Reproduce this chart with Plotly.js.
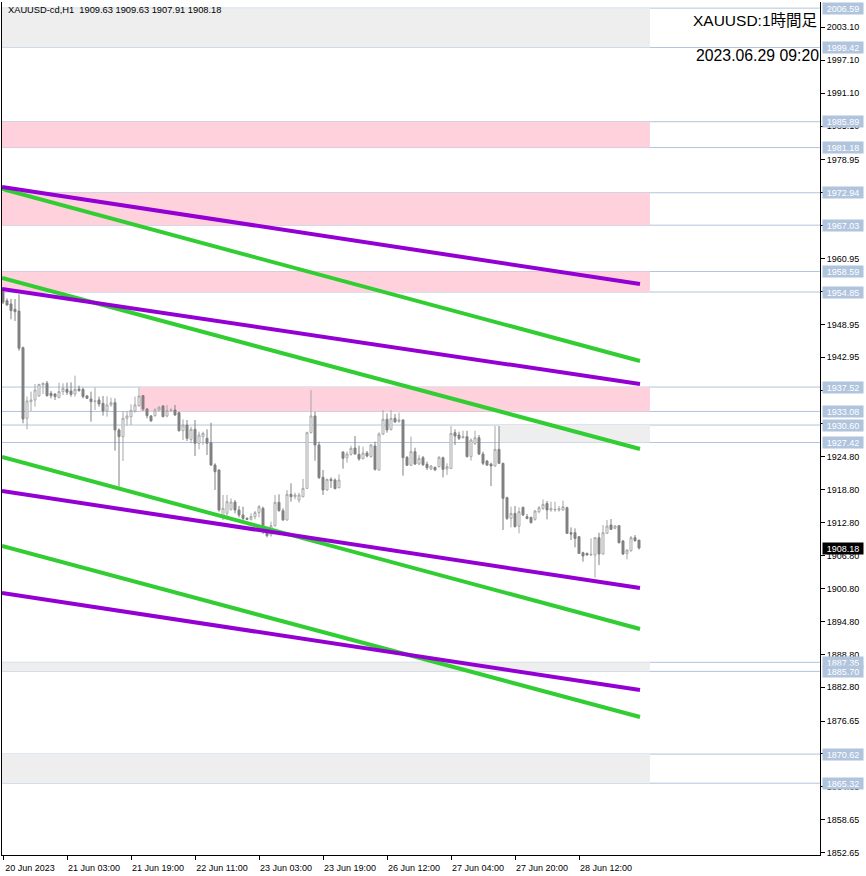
<!DOCTYPE html>
<html>
<head>
<meta charset="utf-8">
<script src="https://cdn.plot.ly/plotly-3.0.1.min.js"></script>
<style>
html,body{margin:0;padding:0;background:#fff;}
#chart{width:866px;height:876px;}
</style>
</head>
<body>
<div id="chart"></div>
<script>
// ---- DATA (hourly bars, index 0 = 20 Jun 2023 11:00) ----
const openP = [1954.90,1953.27,1952.67,1951.69,1951.39,1944.71,1931.83,1934.86,1935.17,1935.90,
1937.90,1938.21,1936.38,1936.26,1935.65,1936.69,1937.11,1936.81,1936.26,1937.17,
1937.11,1935.90,1935.35,1934.86,1935.17,1934.56,1933.16,1934.26,1934.68,1929.70,
1928.48,1931.83,1932.13,1933.16,1934.13,1935.96,1933.53,1932.25,1932.31,1933.34,
1934.07,1932.25,1933.22,1933.34,1932.86,1929.57,1930.61,1927.99,1929.82,1927.27,
1928.48,1928.18,1927.39,1923.32,1922.40,1914.02,1914.51,1915.24,1916.57,1915.11,
1914.20,1913.59,1913.41,1913.90,1914.63,1915.42,1911.47,1910.56,1912.26,1916.51,
1914.99,1913.29,1917.97,1917.54,1916.94,1917.54,1919.06,1929.21,1932.25,1926.96,
1921.07,1918.76,1920.70,1920.58,1919.19,1925.69,1924.65,1925.26,1926.41,1925.26,
1924.47,1925.50,1924.84,1926.78,1922.40,1928.97,1931.64,1929.82,1931.82,1931.28,
1931.52,1924.71,1923.26,1925.75,1923.50,1924.65,1923.44,1922.59,1922.89,1923.01,
1924.65,1922.58,1922.70,1929.21,1928.78,1928.29,1928.48,1924.83,1927.26,1928.29,
1925.32,1924.04,1923.49,1923.13,1926.17,1923.62,1917.36,1913.59,1914.50,1912.19,
1915.60,1913.89,1913.77,1913.41,1914.81,1915.41,1916.32,1915.11,1915.11,1915.11,
1915.11,1915.53,1910.98,1910.98,1910.25,1907.33,1907.21,1906.91,1906.91,1910.07,
1907.09,1910.86,1912.38,1911.77,1912.25,1909.46,1907.21,1907.70,1910.07,1909.63];
const highP = [1955.20,1953.70,1953.58,1953.58,1954.43,1944.89,1935.78,1936.69,1938.08,1938.08,
1938.33,1938.63,1936.81,1936.38,1938.33,1938.21,1938.33,1938.39,1939.60,1937.78,
1937.42,1936.08,1936.69,1937.42,1935.78,1935.90,1935.84,1935.59,1935.47,1930.00,
1933.16,1933.16,1934.38,1935.78,1937.42,1936.08,1933.65,1932.43,1933.65,1934.07,
1934.25,1934.25,1933.65,1934.25,1933.04,1931.64,1931.52,1930.30,1931.52,1929.39,
1929.39,1929.82,1931.03,1923.62,1922.53,1917.85,1917.85,1917.24,1916.94,1915.84,
1915.72,1913.78,1914.51,1914.93,1916.02,1915.72,1912.08,1912.99,1917.85,1917.97,
1915.42,1918.76,1919.97,1918.27,1918.27,1920.76,1929.39,1936.99,1933.04,1927.57,
1922.40,1920.83,1921.07,1920.89,1921.61,1925.81,1925.75,1926.84,1928.60,1926.84,
1926.66,1925.87,1927.14,1927.57,1929.27,1933.34,1932.73,1933.34,1932.61,1932.86,
1931.64,1924.96,1928.48,1926.47,1925.14,1924.96,1923.92,1923.32,1923.01,1924.95,
1924.83,1923.62,1930.42,1929.81,1929.39,1929.57,1929.57,1928.17,1929.57,1928.78,
1925.74,1924.22,1923.74,1930.42,1930.42,1923.74,1917.54,1915.72,1915.84,1915.60,
1915.72,1914.38,1913.89,1915.11,1915.84,1917.05,1916.75,1916.63,1916.63,1915.84,
1916.81,1915.72,1911.95,1911.77,1910.37,1907.51,1907.33,1909.94,1910.13,1910.98,
1912.38,1913.29,1913.47,1912.38,1912.38,1909.64,1907.94,1910.37,1910.55,1909.63];
const lowP = [1952.67,1952.36,1949.87,1949.57,1944.16,1930.91,1929.82,1933.16,1933.95,1935.78,
1936.26,1935.78,1935.47,1935.17,1935.47,1936.08,1936.08,1935.78,1935.78,1936.69,
1935.47,1935.35,1931.22,1933.34,1933.95,1932.31,1932.13,1933.95,1925.93,1919.37,
1924.05,1930.49,1930.61,1932.86,1933.95,1933.16,1931.83,1931.22,1932.13,1933.04,
1932.01,1932.01,1933.04,1932.31,1929.39,1927.87,1927.69,1927.27,1924.96,1926.17,
1926.96,1925.14,1923.13,1918.76,1914.81,1913.29,1913.90,1914.99,1914.51,1913.78,
1913.29,1913.29,1913.17,1913.41,1913.78,1910.74,1910.13,1910.25,1912.08,1914.81,
1913.17,1913.17,1916.63,1917.06,1916.45,1917.42,1918.94,1929.09,1924.11,1920.76,
1917.85,1918.64,1919.12,1918.88,1919.06,1922.65,1923.74,1925.02,1925.20,1924.11,
1924.35,1924.71,1924.65,1922.28,1922.28,1928.78,1929.21,1929.57,1931.03,1931.03,
1921.37,1923.13,1923.13,1923.32,1923.32,1923.13,1922.40,1922.40,1922.28,1922.89,
1921.06,1921.49,1922.58,1926.96,1927.87,1928.17,1924.71,1924.10,1926.96,1925.13,
1923.31,1923.13,1919.48,1923.01,1923.49,1911.46,1913.29,1911.95,1911.95,1910.86,
1914.02,1913.41,1912.68,1913.16,1914.50,1915.11,1913.41,1914.81,1914.81,1914.81,
1914.99,1910.73,1909.64,1908.30,1907.09,1905.69,1906.80,1906.72,1902.77,1905.08,
1907.03,1910.73,1911.46,1911.59,1909.03,1906.91,1906.12,1907.51,1909.34,1907.91];
const closeP = [1953.00,1952.48,1951.45,1951.27,1944.59,1931.70,1934.99,1935.17,1936.99,1938.02,
1938.21,1935.96,1935.96,1935.78,1936.69,1937.29,1936.57,1936.20,1937.11,1936.87,
1935.78,1935.47,1934.86,1934.99,1934.44,1933.16,1934.26,1934.68,1929.70,1928.48,
1931.83,1932.25,1933.28,1934.26,1935.90,1933.53,1932.31,1931.34,1933.34,1933.83,
1932.13,1933.22,1933.34,1932.43,1929.57,1930.61,1928.18,1929.82,1927.27,1928.78,
1929.09,1927.27,1923.32,1922.10,1915.11,1915.42,1916.63,1916.57,1915.11,1914.20,
1913.59,1913.41,1913.90,1914.63,1915.72,1911.47,1910.43,1912.26,1916.51,1914.99,
1913.29,1917.97,1917.54,1917.85,1917.85,1919.06,1929.21,1932.25,1926.96,1921.01,
1918.76,1920.70,1920.46,1919.00,1920.58,1924.53,1925.32,1926.35,1925.32,1924.41,
1925.50,1924.96,1926.96,1922.53,1928.97,1931.64,1929.70,1931.82,1931.16,1931.52,
1924.65,1923.26,1925.75,1923.50,1924.53,1923.38,1922.83,1923.13,1922.40,1924.71,
1922.52,1923.01,1929.08,1928.60,1928.17,1928.48,1924.83,1927.87,1928.29,1925.32,
1923.62,1923.31,1923.13,1926.17,1923.62,1917.24,1913.59,1914.50,1912.07,1914.81,
1914.20,1913.59,1912.80,1914.93,1915.53,1916.14,1915.11,1915.41,1915.23,1915.35,
1915.72,1910.86,1910.73,1909.94,1907.21,1906.72,1906.91,1907.03,1910.07,1907.09,
1910.98,1912.19,1911.59,1912.19,1909.15,1907.09,1907.82,1910.07,1909.52,1908.18];

// time axis labels (every 16 bars)
const timeTickBars = [0,16,32,48,64,80,96,112,128,144];
const timeTickText = ['20 Jun 2023','21 Jun 03:00','21 Jun 19:00','22 Jun 11:00','23 Jun 03:00',
                      '23 Jun 19:00','26 Jun 12:00','27 Jun 04:00','27 Jun 20:00','28 Jun 12:00'];
// price axis ticks
const priceTicks = [2003.10,1997.10,1991.10,1985.10,1978.95,1972.95,1966.95,1960.95,1954.95,1948.95,
  1942.95,1936.95,1930.80,1924.80,1918.80,1912.80,1906.80,1900.80,1894.80,1888.80,1882.80,
  1876.65,1870.65,1864.65,1858.65,1852.65];

// horizontal levels and zones
const levels = [2006.59,1999.42,1985.89,1981.18,1972.94,1967.03,1958.59,1954.85,
                1937.52,1933.08,1930.60,1927.42,1887.35,1885.70,1870.62,1865.32];
const zoneTop    = [2006.59,1985.89,1972.94,1958.59,1937.52,1930.60,1887.35,1870.62];
const zoneBottom = [1999.42,1981.18,1967.03,1954.85,1933.08,1927.42,1885.70,1865.32];
const zoneKind   = ['grey','pink','pink','pink','pink','grey','grey','grey'];
const zoneStartBar = [-1,-1,-1,-1,34.25,124,-1,-1];
const zoneEndBar = 161.75;

// trend lines: price at start bar and end bar
const lineStartBar = -0.25, lineEndBar = 159.25;
const purpleStart = [1973.99,1955.40,1918.58,1899.98];
const purpleEnd   = [1956.31,1938.08,1900.90,1882.30];
const greenStart  = [1973.62,1957.40,1924.77,1908.55];
const greenEnd    = [1942.27,1926.23,1893.42,1877.38];

const lastPrice = 1908.18;
const headerText = 'XAUUSD-cd,H1\u00a0\u00a01909.63 1909.63 1907.91 1908.18';
const symbolText = 'XAUUSD:1時間足';
const dateText = '2023.06.29 09:20';

// ---- BUILD ----
const barX = openP.map((_, i) => i);
const FONT = 'Liberation Sans, Arial, Noto Sans CJK JP, sans-serif';

const traces = [{
  type: 'candlestick', x: barX, open: openP, high: highP, low: lowP, close: closeP,
  increasing: {line: {color: '#a6a6a6', width: 1}, fillcolor: '#ffffff'},
  decreasing: {line: {color: '#808080', width: 1}, fillcolor: '#808080'},
  whiskerwidth: 0, hoverinfo: 'skip', showlegend: false
}];
function addLines(starts, ends, color) {
  starts.forEach((s, k) => traces.push({
    type: 'scatter', mode: 'lines', x: [lineStartBar, lineEndBar], y: [s, ends[k]],
    line: {color: color, width: 4}, hoverinfo: 'skip', showlegend: false
  }));
}
addLines(greenStart, greenEnd, '#32cd32');
addLines(purpleStart, purpleEnd, '#9400d3');

const shapes = [];
zoneTop.forEach((t, k) => shapes.push({
  type: 'rect', xref: 'x', yref: 'y', x0: zoneStartBar[k], x1: zoneEndBar, y0: zoneBottom[k], y1: t,
  fillcolor: zoneKind[k] === 'pink' ? '#ffd1dc' : '#eeeeee', line: {width: 0}, layer: 'below'
}));
levels.forEach(v => shapes.push({
  type: 'line', xref: 'paper', yref: 'y', x0: 0, x1: 1, y0: v, y1: v,
  line: {color: '#b0c4de', width: 1}, layer: 'below'
}));

const annotations = [];
levels.forEach(v => annotations.push({
  xref: 'paper', yref: 'y', x: 1, y: v, xanchor: 'left', yanchor: 'middle', xshift: 2,
  text: v.toFixed(2), showarrow: false, bgcolor: '#b0c4de', width: 40, height: 11, borderpad: 0,
  font: {family: FONT, size: 9, color: '#ffffff'}
}));
annotations.push({
  xref: 'paper', yref: 'y', x: 1, y: lastPrice, xanchor: 'left', yanchor: 'middle', xshift: 2,
  text: lastPrice.toFixed(2), showarrow: false, bgcolor: '#000000', width: 40, height: 11, borderpad: 0,
  font: {family: FONT, size: 9, color: '#ffffff'}
});
annotations.push({
  xref: 'paper', yref: 'paper', x: 0, y: 1, xanchor: 'left', yanchor: 'top', xshift: 4, yshift: -1,
  text: headerText, showarrow: false, font: {family: FONT, size: 9.3, color: '#000000'}
});
annotations.push({
  xref: 'paper', yref: 'paper', x: 1, y: 1, xanchor: 'right', yanchor: 'top', xshift: -1, yshift: -8,
  text: symbolText, showarrow: false, font: {family: FONT, size: 15.5, color: '#000000'}
});
annotations.push({
  xref: 'paper', yref: 'paper', x: 1, y: 1, xanchor: 'right', yanchor: 'top', xshift: 1, yshift: -43,
  text: dateText, showarrow: false, font: {family: FONT, size: 15.8, color: '#000000'}
});

const layout = {
  width: 866, height: 876,
  margin: {l: 2, r: 46, t: 2, b: 21, pad: 0},
  paper_bgcolor: '#ffffff', plot_bgcolor: '#ffffff',
  showlegend: false, hovermode: false,
  xaxis: {
    range: [-0.25, 204.25], showgrid: false, zeroline: false, fixedrange: true,
    showline: true, linecolor: '#000000', linewidth: 1,
    ticks: 'outside', ticklen: 4, tickcolor: '#000000', tickwidth: 1,
    tickvals: timeTickBars, ticktext: timeTickText, ticklabelshift: 27,
    tickfont: {family: FONT, size: 9, color: '#000000'},
    rangeslider: {visible: false}
  },
  yaxis: {
    side: 'right', range: [1852.23, 2007.71], showgrid: false, zeroline: false, fixedrange: true,
    showline: true, mirror: true, linecolor: '#000000', linewidth: 1,
    ticks: 'outside', ticklen: 4, tickcolor: '#000000', tickwidth: 1,
    tickvals: priceTicks, ticktext: priceTicks.map(v => v.toFixed(2)),
    tickfont: {family: FONT, size: 9, color: '#000000'}
  },
  shapes: shapes,
  annotations: annotations
};

Plotly.newPlot('chart', traces, layout, {staticPlot: true, displayModeBar: false});
</script>
</body>
</html>
